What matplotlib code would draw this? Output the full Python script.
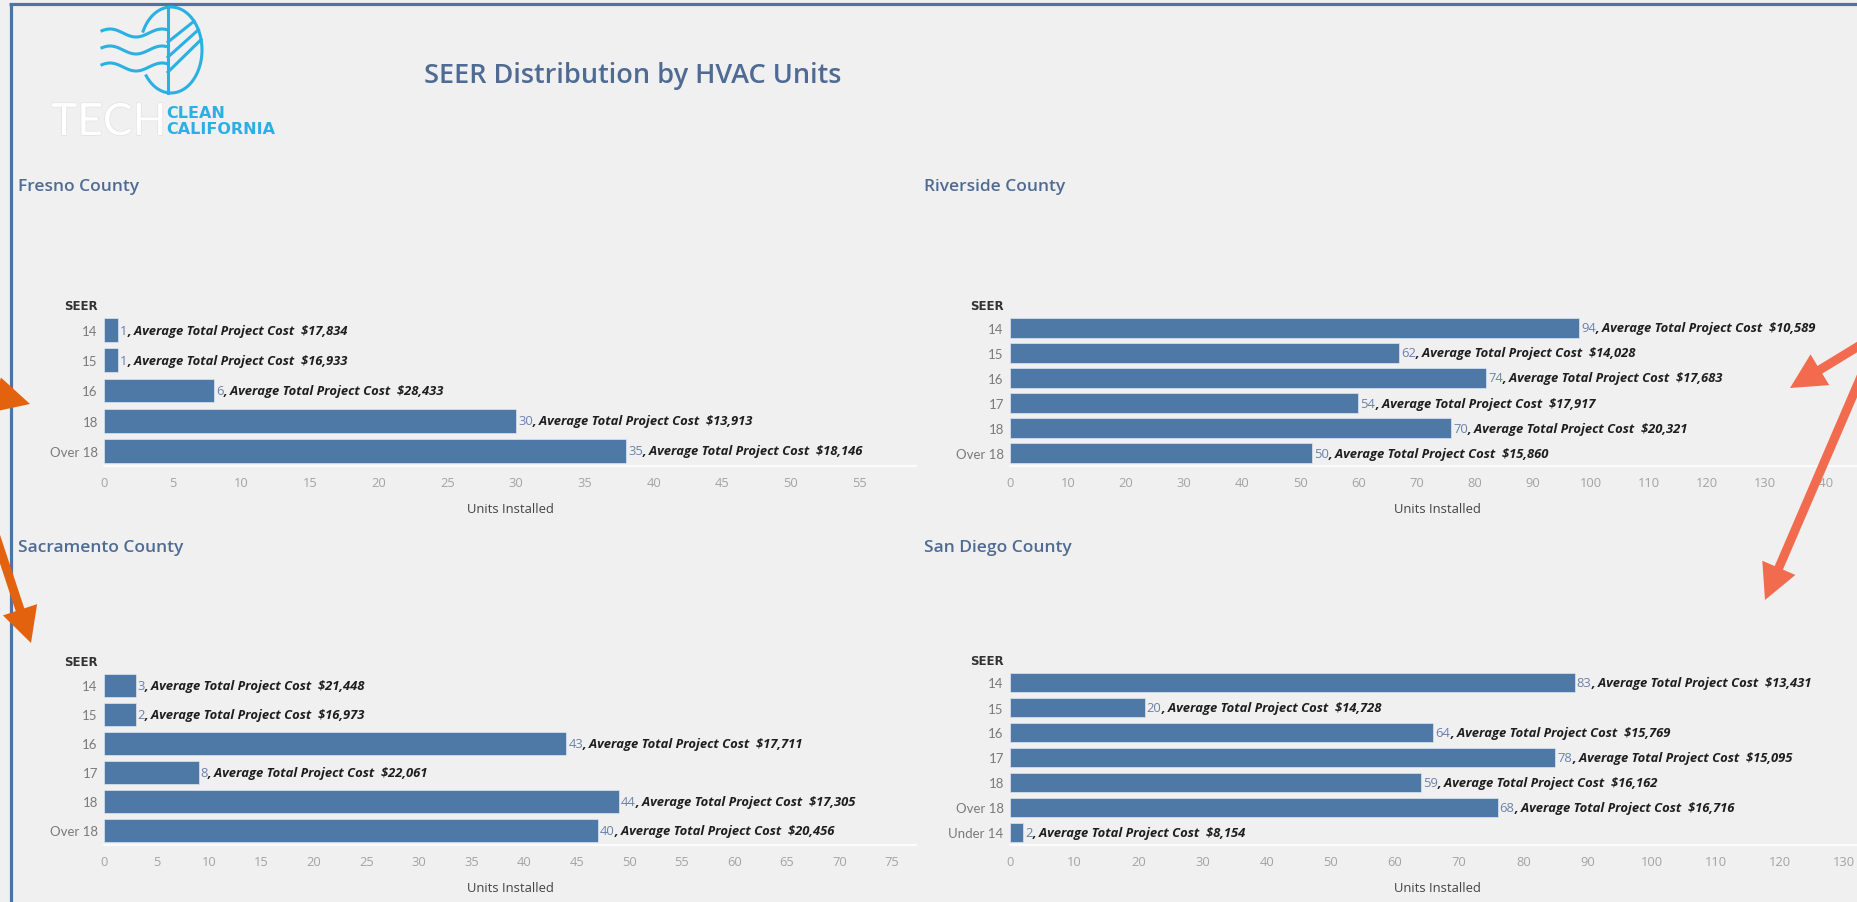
"""SEER distribution by HVAC units - four county panels."""

import numpy as np
import matplotlib
matplotlib.use('Agg')
from matplotlib import pyplot as plt
from matplotlib.patches import FancyArrow
import matplotlib.patheffects as pe

plt.rcParams['font.family'] = ['Lato', 'DejaVu Sans']

W, H = 1857, 903
BG = '#f0f0f0'
BAR = '#4e79a7'
NUM = '#6a82ab'
SLATE = '#4f6b93'
WIDE = ['Open Sans', 'DejaVu Sans']

# data
fresno_seer = ['14', '15', '16', '18', 'Over 18']
fresno_bar = [1, 1, 8, 30, 38]
fresno_units = [1, 1, 6, 30, 35]
fresno_cost = [17834, 16933, 28433, 13913, 18146]

riverside_seer = ['14', '15', '16', '17', '18', 'Over 18']
riverside_bar = [98, 67, 82, 60, 76, 52]
riverside_units = [94, 62, 74, 54, 70, 50]
riverside_cost = [10589, 14028, 17683, 17917, 20321, 15860]

sacramento_seer = ['14', '15', '16', '17', '18', 'Over 18']
sacramento_bar = [3, 3, 44, 9, 49, 47]
sacramento_units = [3, 2, 43, 8, 44, 40]
sacramento_cost = [21448, 16973, 17711, 22061, 17305, 20456]

sandiego_seer = ['14', '15', '16', '17', '18', 'Over 18', 'Under 14']
sandiego_bar = [88, 21, 66, 85, 64, 76, 2]
sandiego_units = [83, 20, 64, 78, 59, 68, 2]
sandiego_cost = [13431, 14728, 15769, 15095, 16162, 16716, 8154]

fig = plt.figure(figsize=(W / 100, H / 100), dpi=100, facecolor=BG)

# pixel-space overlay for frame, logo and headings
bg = fig.add_axes([0, 0, 1, 1], zorder=0)
bg.set_xlim(0, W)
bg.set_ylim(H, 0)
bg.axis('off')
bg.set_facecolor(BG)

bg.plot([9, W], [5, 5], color='#4d74a3', lw=2.3, solid_capstyle='butt')
bg.plot([10.5, 10.5], [5, H], color='#4d74a3', lw=2.3, solid_capstyle='butt')

# logo
CYAN = '#2bb0e4'
cx, cy, a, b = 171, 51, 31, 43
t = np.radians(np.linspace(-143, 154, 200))
bg.plot(cx + a * np.cos(t), cy - b * np.sin(t), color=CYAN, lw=2.2)
bg.plot([168, 168], [8, 94], color=CYAN, lw=2.2)
for y0, ang in [(43, 42), (58, 28), (73, 14)]:
    ta = np.radians(ang)
    bg.plot([168, cx + a * np.cos(ta)], [y0, cy - b * np.sin(ta)], color=CYAN, lw=2.2)
xw = np.linspace(102, 168, 80)
for y0 in [34, 51, 68]:
    bg.plot(xw, y0 - 4 * np.sin(2 * np.pi * (xw - 102) / 52 + 0.6), color=CYAN, lw=2.2)
bg.text(51, 136, 'TECH', color='white', fontsize=32, va='baseline', ha='left',
        path_effects=[pe.withStroke(linewidth=0.8, foreground='#dedede')])
bg.text(166, 113, 'CLEAN', color=CYAN, fontsize=11.5, fontweight='bold', va='center', ha='left',
        family=['DejaVu Sans'])
bg.text(166, 129, 'CALIFORNIA', color=CYAN, fontsize=11.5, fontweight='bold', va='center', ha='left',
        family=['DejaVu Sans'])

bg.text(424, 76, 'SEER Distribution by HVAC Units', color=SLATE, fontsize=19.5, fontweight='semibold',
        va='center', ha='left', family=WIDE)

panels = [
    ('Fresno County', fresno_seer, fresno_bar, fresno_units, fresno_cost,
     (104, 316, 916, 467), 59.1, 5, (18, 187)),
    ('Riverside County', riverside_seer, riverside_bar, riverside_units, riverside_cost,
     (1010, 316, 1864, 467), 147.1, 10, (924, 187)),
    ('Sacramento County', sacramento_seer, sacramento_bar, sacramento_units, sacramento_cost,
     (104, 672, 916, 846), 77.3, 5, (18, 548)),
    ('San Diego County', sandiego_seer, sandiego_bar, sandiego_units, sandiego_cost,
     (1010, 671, 1864, 846), 133.1, 10, (924, 548)),
]

for title, seer, bars, units, costs, (l, tp, r, bt), xmax, step, (tx, ty) in panels:
    ax = fig.add_axes([l / W, 1 - bt / H, (r - l) / W, (bt - tp) / H], zorder=2)
    ax.set_facecolor('none')
    n = len(seer)
    pos = np.arange(n)
    ax.barh(pos, bars, height=0.79, color=BAR, edgecolor='#dfe6ef', linewidth=0.5)
    ax.set_ylim(n - 0.5, -0.5)
    ax.set_xlim(0, xmax)
    ax.set_yticks(pos)
    ax.set_yticklabels(seer)
    ax.set_xticks(np.arange(0, xmax, step))
    ax.tick_params(axis='y', length=0, pad=4.5, labelsize=9.5, labelcolor='#7a7a7a')
    ax.tick_params(axis='x', length=0, pad=7, labelsize=9.3, labelcolor='#a3a3a3')
    for lab in ax.get_xticklabels():
        lab.set_family(WIDE)
    for s in ['top', 'right', 'left']:
        ax.spines[s].set_visible(False)
    ax.spines['bottom'].set_color('white')
    ax.spines['bottom'].set_linewidth(1.2)

    for i, (v, u, c) in enumerate(zip(bars, units, costs)):
        t1 = ax.annotate(f'{u}', xy=(v, i), xytext=(1.5, 0), textcoords='offset points',
                         va='center', ha='left', fontsize=9.4, color=NUM, family=WIDE)
        ax.annotate(f', Average Total Project Cost  ${c:,}', xy=(1, 0), xycoords=t1,
                    va='bottom', ha='left', fontsize=9.4, color='#1e1e1e', family=WIDE,
                    fontweight='bold', fontstyle='italic')

    bg.text(tx, ty, title, color=SLATE, fontsize=12.5, fontweight='semibold', va='center', ha='left',
            family=WIDE)
    bg.text(l - 6, tp - 9, 'SEER', color='#333333', fontsize=8.5, fontweight='bold', va='center',
            ha='right', family=['DejaVu Sans'])
    bg.text((l + r) / 2, bt + 43, 'Units Installed', color='#444444', fontsize=9.4, va='center',
            ha='center', family=WIDE)

# annotation arrows on top
top = fig.add_axes([0, 0, 1, 1], zorder=10)
top.set_xlim(0, W)
top.set_ylim(H, 0)
top.axis('off')
top.patch.set_alpha(0)


def arrow(tail, tip, color):
    dx, dy = tip[0] - tail[0], tip[1] - tail[1]
    top.add_patch(FancyArrow(tail[0], tail[1], dx, dy, width=9, head_width=36, head_length=35,
                             length_includes_head=True, color=color, lw=0))


arrow((-70, 378), (30, 405), '#e2620e')
arrow((-6, 532), (31, 644), '#e2620e')
arrow((1885, 331), (1790, 389), '#f26b4f')
arrow((1872, 352), (1765, 601), '#f26b4f')

fig.savefig('out.png', dpi=100, facecolor=BG)
